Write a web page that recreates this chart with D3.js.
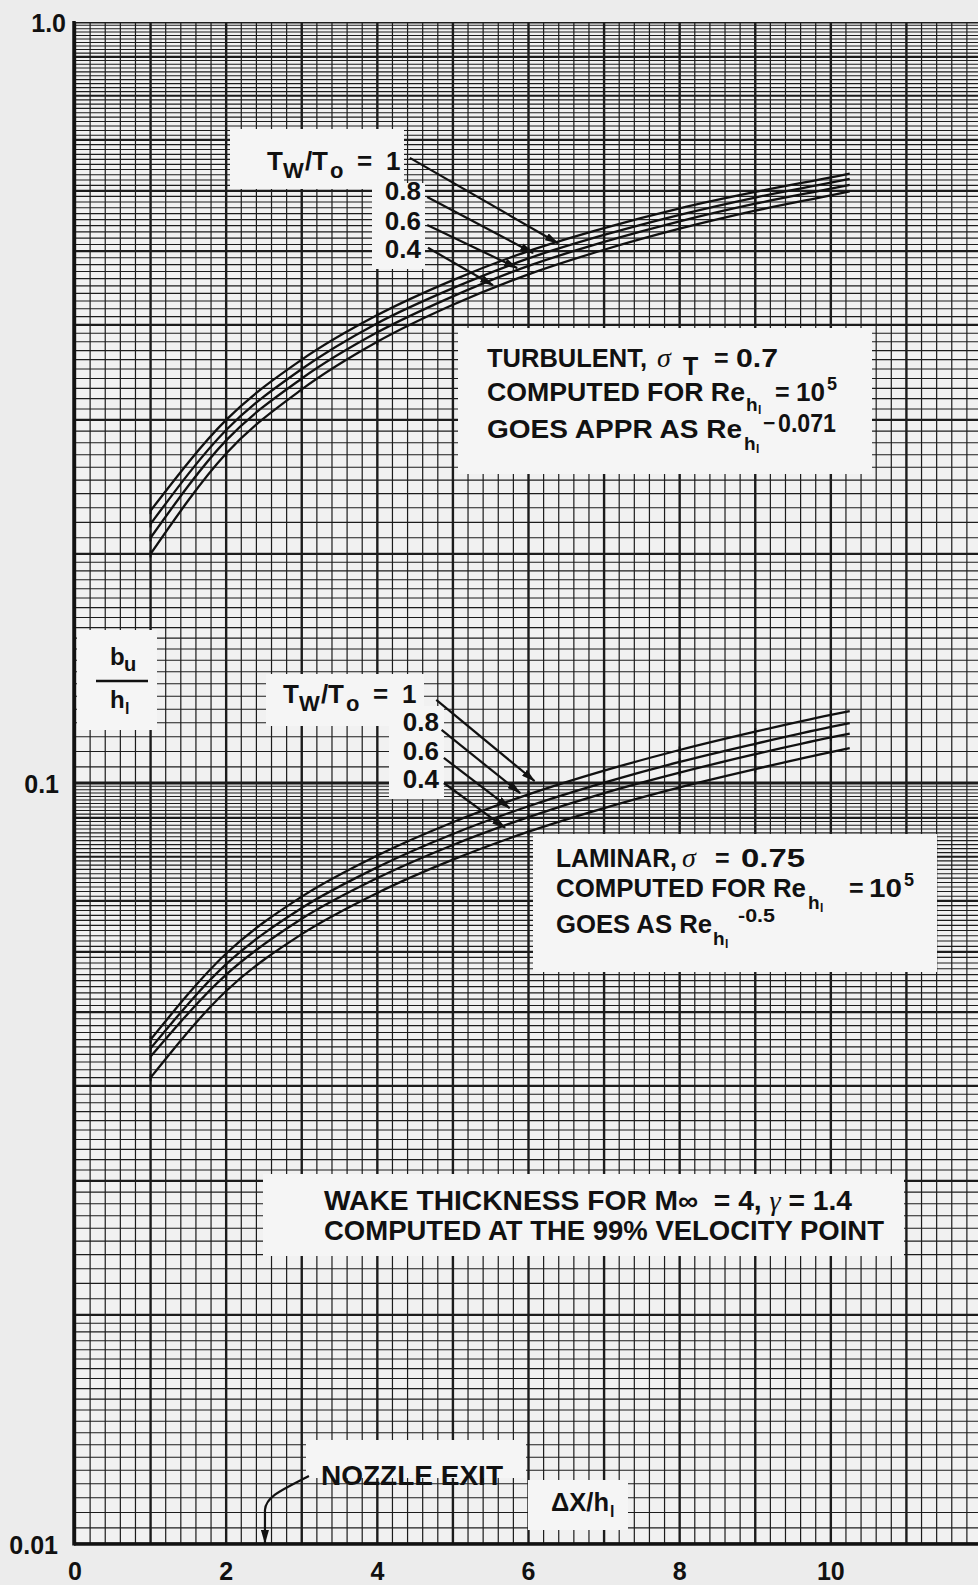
<!DOCTYPE html>
<html>
<head>
<meta charset="utf-8">
<script src="https://cdn.jsdelivr.net/npm/d3@7"></script>
<style>
  body { margin: 0; background: #ececec; }
  svg { display: block; }
  text { font-family: "Liberation Sans", Arial, sans-serif; font-weight: bold; fill: #111; white-space: pre; }
</style>
</head>
<body>
<svg id="chart" width="978" height="1585"></svg>
<script>
// Stations along the wake, ΔX/h_l
const stationX = [1, 2, 3, 4, 5, 6, 7, 8, 9, 10, 10.25];

// Turbulent wake thickness b_u/h_l for each wall temperature ratio
const turbTw10 = [0.228, 0.300, 0.360, 0.412, 0.458, 0.500, 0.536, 0.569, 0.598, 0.625, 0.632];
const turbTw08 = [0.219, 0.291, 0.350, 0.402, 0.447, 0.489, 0.525, 0.558, 0.588, 0.615, 0.622];
const turbTw06 = [0.210, 0.282, 0.340, 0.391, 0.436, 0.478, 0.514, 0.547, 0.577, 0.604, 0.611];
const turbTw04 = [0.200, 0.271, 0.329, 0.380, 0.425, 0.466, 0.502, 0.535, 0.565, 0.592, 0.599];

// Laminar wake thickness b_u/h_l
const lamTw10 = [0.0460, 0.0597, 0.0709, 0.0803, 0.0888, 0.0966, 0.1038, 0.1105, 0.1168, 0.1229, 0.1243];
const lamTw08 = [0.0448, 0.0578, 0.0685, 0.0775, 0.0857, 0.0932, 0.1001, 0.1066, 0.1126, 0.1185, 0.1199];
const lamTw06 = [0.0437, 0.0560, 0.0663, 0.0750, 0.0829, 0.0902, 0.0970, 0.1032, 0.1091, 0.1148, 0.1161];
const lamTw04 = [0.0410, 0.0533, 0.0633, 0.0717, 0.0793, 0.0863, 0.0927, 0.0987, 0.1043, 0.1098, 0.1111];

const tempRatioLabels = ["1", "0.8", "0.6", "0.4"];
const xTickValues = [0, 2, 4, 6, 8, 10];
const yTickValues = [0.01, 0.1, 1.0];
const yTickLabels = ["0.01", "0.1", "1.0"];

// Leader arrows: tail and head in data units [ΔX/h_l, b_u/h_l]
const turbArrowTail = [[4.43, 0.663], [4.66, 0.589], [4.66, 0.541], [4.67, 0.505]];
const turbArrowHead = [[6.39, 0.512], [6.06, 0.497], [5.85, 0.475], [5.53, 0.451]];
const lamArrowTail = [[4.78, 0.1286], [4.85, 0.1174], [4.88, 0.1079], [4.88, 0.1000]];
const lamArrowHead = [[6.08, 0.1006], [5.89, 0.0970], [5.75, 0.0927], [5.69, 0.0873]];
const nozzleExitX = 2.5;

const svg = d3.select("#chart");
const W = 978, H = 1585;
const plot = { left: 74, right: 978, top: 22, bottom: 1544 };

const x = d3.scaleLinear().domain([0, 12]).range([75, 982]);
const y = d3.scaleLog().domain([0.01, 1]).range([plot.bottom, plot.top]);

svg.append("rect").attr("width", W).attr("height", H).attr("fill", "#ececec");

const defs = svg.append("defs");
defs.append("clipPath").attr("id", "plotClip")
  .append("rect").attr("x", plot.left).attr("y", plot.top)
  .attr("width", plot.right - plot.left).attr("height", plot.bottom - plot.top);
defs.append("marker").attr("id", "arrowHead")
  .attr("viewBox", "0 0 14 8").attr("refX", 13).attr("refY", 4)
  .attr("markerWidth", 14).attr("markerHeight", 8).attr("markerUnits", "userSpaceOnUse")
  .attr("orient", "auto")
  .append("path").attr("d", "M0,0 L14,4 L0,8 Z").attr("fill", "#111");

// ---- graph paper ----
const paper = svg.append("g").attr("clip-path", "url(#plotClip)");
paper.append("rect").attr("x", plot.left).attr("y", plot.top)
  .attr("width", plot.right - plot.left).attr("height", plot.bottom - plot.top)
  .attr("fill", "#f1f1f1");

const vLines = d3.range(0, 61).map(i => ({ v: i / 5, major: i % 5 === 0 }));
const hLines = [];
[0.01, 0.1].forEach(base => {
  for (let k = 100; k < 200; k += 5) hLines.push({ v: base * k / 100, major: k % 100 === 0, decade: k === 100 });
  for (let k = 200; k < 1000; k += 10) hLines.push({ v: base * k / 100, major: k % 100 === 0, decade: false });
});
hLines.push({ v: 1, major: true, decade: true });

paper.selectAll("line.h").data(hLines).join("line")
  .attr("x1", plot.left).attr("x2", plot.right)
  .attr("y1", d => y(d.v)).attr("y2", d => y(d.v))
  .attr("stroke", "#1c1c1c")
  .attr("stroke-width", d => d.decade ? 3 : d.major ? 2.2 : 1.1);

paper.selectAll("line.v").data(vLines).join("line")
  .attr("x1", d => x(d.v)).attr("x2", d => x(d.v))
  .attr("y1", plot.top).attr("y2", plot.bottom)
  .attr("stroke", "#1c1c1c")
  .attr("stroke-width", d => d.major ? 2.4 : 1.2);

// ---- plot frame ----
svg.append("line").attr("x1", plot.left).attr("x2", plot.left)
  .attr("y1", plot.top - 1).attr("y2", plot.bottom + 1.5)
  .attr("stroke", "#111").attr("stroke-width", 3.5);
svg.append("line").attr("x1", plot.left).attr("x2", plot.right)
  .attr("y1", plot.bottom).attr("y2", plot.bottom)
  .attr("stroke", "#111").attr("stroke-width", 3.5);

// ---- annotation backgrounds ----
const boxFill = "#f5f5f5";
const boxes = [
  [230, 129, 174, 60], [372, 183, 53, 86],      // upper T_W/T_o label
  [458, 328, 414, 146],                          // turbulent note
  [266, 674, 158, 52], [389, 706, 55, 93],       // lower T_W/T_o label
  [533, 834, 404, 138],                          // laminar note
  [77, 630, 80, 100],                            // y axis title
  [263, 1174, 641, 82],                          // wake note
  [306, 1440, 220, 38],                          // nozzle exit label
  [528, 1480, 100, 50]                           // x axis title
];
svg.selectAll("rect.box").data(boxes).join("rect")
  .attr("x", d => d[0]).attr("y", d => d[1]).attr("width", d => d[2]).attr("height", d => d[3])
  .attr("fill", boxFill);

// ---- curves ----
const line = d3.line().x(d => x(d[0])).y(d => y(d[1])).curve(d3.curveMonotoneX);
const seriesAll = [turbTw10, turbTw08, turbTw06, turbTw04, lamTw10, lamTw08, lamTw06, lamTw04];
const curves = svg.append("g");
seriesAll.forEach(vals => {
  const pts = stationX.map((s, i) => [s, vals[i]]);
  curves.append("path").attr("d", line(pts))
    .attr("fill", "none").attr("stroke", "#111").attr("stroke-width", 2.3);
  curves.selectAll(null).data(pts.filter(p => Number.isInteger(p[0]))).join("line")
    .attr("x1", d => x(d[0])).attr("x2", d => x(d[0]))
    .attr("y1", d => y(d[1]) - 3.5).attr("y2", d => y(d[1]) + 3.5)
    .attr("stroke", "#111").attr("stroke-width", 2);
});

// ---- leader arrows ----
function arrows(tails, heads) {
  svg.append("g").selectAll("line").data(tails).join("line")
    .attr("x1", d => x(d[0])).attr("y1", d => y(d[1]))
    .attr("x2", (d, i) => x(heads[i][0])).attr("y2", (d, i) => y(heads[i][1]))
    .attr("stroke", "#111").attr("stroke-width", 2.2)
    .attr("marker-end", "url(#arrowHead)");
}
arrows(turbArrowTail, turbArrowHead);
arrows(lamArrowTail, lamArrowHead);

// ---- text pieces: each piece is its own text element ----
function seg(px, py, str, size, opt = {}) {
  const t = svg.append("text").attr("x", px).attr("y", py)
    .attr("text-anchor", opt.anchor || "start")
    .style("font-size", size + "px").text(str);
  if (opt.len) t.attr("textLength", opt.len).attr("lengthAdjust", "spacingAndGlyphs");
  if (opt.greek) t.style("font-family", "'Liberation Serif', serif").style("font-style", "italic").style("font-weight", "normal");
  return t;
}

// T_W/T_o labels
function ratioLabel(x0, base, numRight, numBases) {
  seg(x0, base, "T", 26);
  seg(x0 + 16, base + 8, "W", 22);
  seg(x0 + 38, base, "/", 26);
  seg(x0 + 45, base, "T", 26);
  seg(x0 + 63, base + 8, "o", 22);
  seg(x0 + 90, base, "=", 26);
  seg(x0 + 119, base, tempRatioLabels[0], 26);
  tempRatioLabels.slice(1).forEach((lab, i) => seg(numRight, numBases[i], lab, 26, { anchor: "end" }));
}
ratioLabel(267, 170, 421, [200, 230, 258]);
ratioLabel(283, 703, 439, [731, 760, 788]);

// turbulent note
seg(487, 367, "TURBULENT,", 25, { len: 160 });
seg(657, 367, "σ", 28, { greek: true });
seg(683, 375, "T", 25);
seg(714, 367, "=", 25);
seg(736, 367, "0.7", 25, { len: 42 });
seg(487, 401, "COMPUTED FOR Re", 25, { len: 258 });
seg(746, 411, "h", 19);
seg(758, 414, "l", 12);
seg(775, 401, "=", 25);
seg(796, 401, "10", 25, { len: 29 });
seg(827, 390, "5", 18);
seg(487, 438, "GOES APPR AS Re", 25, { len: 255 });
seg(744, 450, "h", 19);
seg(756, 453, "l", 12);
seg(763, 430, "−", 21);
seg(778, 432, "0.071", 25, { len: 58 });

// laminar note
seg(556, 867, "LAMINAR,", 25, { len: 121 });
seg(682, 867, "σ", 28, { greek: true });
seg(715, 867, "=", 25);
seg(741, 867, "0.75", 25, { len: 64 });
seg(556, 897, "COMPUTED FOR Re", 25, { len: 250 });
seg(808, 909, "h", 19);
seg(820, 912, "l", 12);
seg(849, 897, "=", 25);
seg(869, 897, "10", 25, { len: 33 });
seg(904, 886, "5", 18);
seg(556, 933, "GOES AS Re", 25, { len: 156 });
seg(713, 945, "h", 19);
seg(725, 948, "l", 12);
seg(738, 922, "-0.5", 19, { len: 37 });

// wake note
const wake1 = svg.append("text").attr("x", 324).attr("y", 1210).style("font-size", "27px")
  .attr("textLength", 528).attr("lengthAdjust", "spacingAndGlyphs");
wake1.append("tspan").text("WAKE THICKNESS FOR M∞  = 4, ");
wake1.append("tspan").text("γ").style("font-family", "'Liberation Serif', serif").style("font-style", "italic").style("font-weight", "normal");
wake1.append("tspan").text(" = 1.4");
seg(324, 1240, "COMPUTED AT THE 99% VELOCITY POINT", 27, { len: 560 });

// axis titles
seg(110, 665, "b", 24);
seg(124, 671, "u", 20);
svg.append("line").attr("x1", 96).attr("x2", 148).attr("y1", 681).attr("y2", 681)
  .attr("stroke", "#111").attr("stroke-width", 2.6);
seg(110, 708, "h", 24);
seg(125, 714, "l", 16);
seg(551, 1511, "ΔX/h", 25, { len: 58 });
seg(610, 1517, "l", 16);

// nozzle exit
seg(321, 1485, "NOZZLE EXIT", 27, { len: 182 });
const tip = [x(nozzleExitX), y(0.01)];
svg.append("path")
  .attr("d", `M${tip[0] + 45},${tip[1] - 68} C${tip[0] + 20},${tip[1] - 55} ${tip[0] + 2},${tip[1] - 48} ${tip[0] + 1},${tip[1] - 34} L${tip[0] + 1},${tip[1] - 1}`)
  .attr("fill", "none").attr("stroke", "#111").attr("stroke-width", 2.2)
  .attr("marker-end", "url(#arrowHead)");

// ---- tick labels ----
svg.append("g").selectAll("text").data(xTickValues).join("text")
  .attr("x", d => x(d)).attr("y", 1580).attr("text-anchor", "middle")
  .style("font-size", "25px").text(d => d);
svg.append("g").selectAll("text").data(yTickValues).join("text")
  .attr("x", (d, i) => [58, 59, 66][i]).attr("y", d => y(d) + 10).attr("text-anchor", "end")
  .style("font-size", "25px").text((d, i) => yTickLabels[i]);
</script>
</body>
</html>
